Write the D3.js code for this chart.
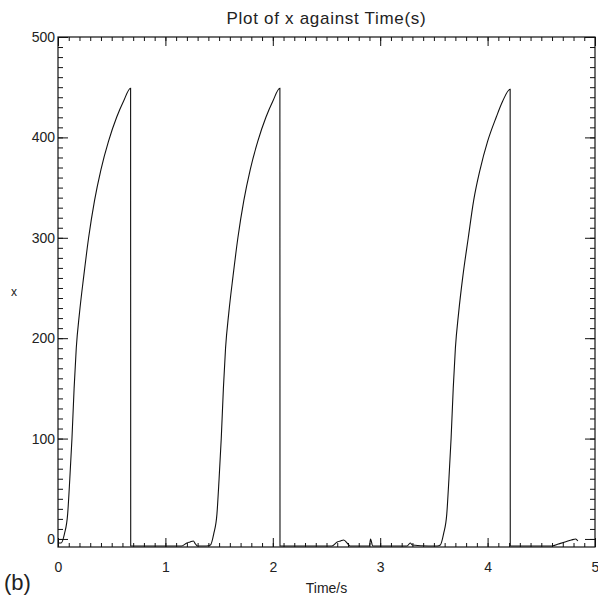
<!DOCTYPE html>
<html>
<head>
<meta charset="utf-8">
<script src="https://cdn.jsdelivr.net/npm/d3@7"></script>
<style>
  body { margin: 0; background: #fff; }
  text { font-family: "Liberation Sans", Arial, sans-serif; fill: #222; }
</style>
</head>
<body>
<div id="chart"></div>
<script>
// time (s) and x
const times = [
  0.00, 0.03, 0.06, 0.09, 0.11, 0.13, 0.15, 0.17, 0.20, 0.24, 0.285, 0.34, 0.40, 0.47, 0.546, 0.61, 0.676,
  0.677, 0.90, 1.15, 1.20, 1.23, 1.26, 1.28, 1.30, 1.38, 1.42,
  1.45, 1.48, 1.50, 1.52, 1.54, 1.56, 1.59, 1.63, 1.675, 1.73, 1.79, 1.86, 1.936, 2.00, 2.066,
  2.067, 2.30, 2.55, 2.60, 2.63, 2.66, 2.70, 2.72, 2.85, 2.90, 2.91, 2.93, 3.10, 3.25, 3.28, 3.30, 3.45, 3.53, 3.56,
  3.59, 3.62, 3.64, 3.66, 3.68, 3.70, 3.73, 3.77, 3.82, 3.87, 3.93, 4.00, 4.08, 4.14, 4.21,
  4.211, 4.40, 4.60, 4.66, 4.72, 4.78, 4.82, 4.84
];
const xValues = [
  -4, -4, 5, 25, 60, 100, 150, 190, 225, 262, 300, 337, 368, 396, 420, 436, 449,
  -7, -7, -7, -4, -3, -2, -5, -7, -7, -6,
  5, 25, 60, 100, 150, 190, 225, 262, 300, 337, 368, 396, 420, 436, 449,
  -7, -7, -7, -3, -2, -1, -5, -7, -7, -7, 0, -7, -7, -7, -4, -6, -7, -7, -6,
  5, 25, 60, 100, 150, 190, 225, 262, 300, 337, 368, 396, 420, 436, 448,
  -7, -7, -7, -5, -3, -1, 0, -2
];
const xTicks = [0, 1, 2, 3, 4, 5];
const yTicks = [0, 100, 200, 300, 400, 500];

const WIDTH = 598, HEIGHT = 600;
const mLeft = 58, mRight = 595, mTop = 37, mBottom = 547;

const svg = d3.select("#chart")
  .append("svg")
    .attr("width", WIDTH)
    .attr("height", HEIGHT);

const x = d3.scaleLinear().domain([0, 5]).range([mLeft, mRight]);
const y = d3.scaleLinear().domain([-8, 500]).range([mBottom, mTop]);

// minor ticks
const xMinor = d3.range(0, 5.001, 0.1);
const yMinor = d3.range(0, 500.1, 10);

function styleAxis(g) {
  g.select(".domain").remove();
  g.selectAll("line").attr("stroke", "#111").attr("stroke-width", 1);
  g.selectAll("text").attr("font-size", 14).attr("fill", "#222");
}

// bottom
svg.append("g").attr("transform", `translate(0,${mBottom})`)
  .call(d3.axisBottom(x).tickValues(xMinor).tickSize(-4).tickFormat(""))
  .call(styleAxis);
svg.append("g").attr("transform", `translate(0,${mBottom})`)
  .call(d3.axisBottom(x).tickValues(xTicks).tickSize(-9).tickPadding(15).tickFormat(d3.format("d")))
  .call(styleAxis);
// top
svg.append("g").attr("transform", `translate(0,${mTop})`)
  .call(d3.axisTop(x).tickValues(xMinor).tickSize(-4).tickFormat(""))
  .call(styleAxis);
svg.append("g").attr("transform", `translate(0,${mTop})`)
  .call(d3.axisTop(x).tickValues(xTicks).tickSize(-9).tickFormat(""))
  .call(styleAxis);
// left
svg.append("g").attr("transform", `translate(${mLeft},0)`)
  .call(d3.axisLeft(y).tickValues(yMinor).tickSize(-5).tickFormat(""))
  .call(styleAxis);
svg.append("g").attr("transform", `translate(${mLeft},0)`)
  .call(d3.axisLeft(y).tickValues(yTicks).tickSize(-10).tickPadding(3).tickFormat(d3.format("d")))
  .call(styleAxis);
// right
svg.append("g").attr("transform", `translate(${mRight},0)`)
  .call(d3.axisRight(y).tickValues(yMinor).tickSize(-5).tickFormat(""))
  .call(styleAxis);
svg.append("g").attr("transform", `translate(${mRight},0)`)
  .call(d3.axisRight(y).tickValues(yTicks).tickSize(-10).tickFormat(""))
  .call(styleAxis);

// frame
svg.append("rect")
  .attr("x", mLeft).attr("y", mTop)
  .attr("width", mRight - mLeft).attr("height", mBottom - mTop)
  .attr("fill", "none").attr("stroke", "#111").attr("stroke-width", 1.2);

// the curve
const line = d3.line()
  .x((d, i) => x(times[i]))
  .y(d => y(d))
  .curve(d3.curveMonotoneX);
svg.append("path")
  .datum(xValues)
  .attr("d", line)
  .attr("fill", "none")
  .attr("stroke", "#111")
  .attr("stroke-width", 1.1);

// texts
svg.append("text")
  .attr("x", (mLeft + mRight) / 2).attr("y", 24)
  .attr("text-anchor", "middle")
  .attr("font-size", 17).attr("letter-spacing", 0.7)
  .text("Plot of x against Time(s)");

svg.append("text")
  .attr("x", (mLeft + mRight) / 2).attr("y", 593)
  .attr("text-anchor", "middle")
  .attr("font-size", 14)
  .text("Time/s");

svg.append("text")
  .attr("x", 14).attr("y", 296)
  .attr("text-anchor", "middle")
  .attr("font-size", 12)
  .text("x");

svg.append("text")
  .attr("x", 4).attr("y", 590)
  .attr("font-size", 22)
  .text("(b)");
</script>
</body>
</html>
